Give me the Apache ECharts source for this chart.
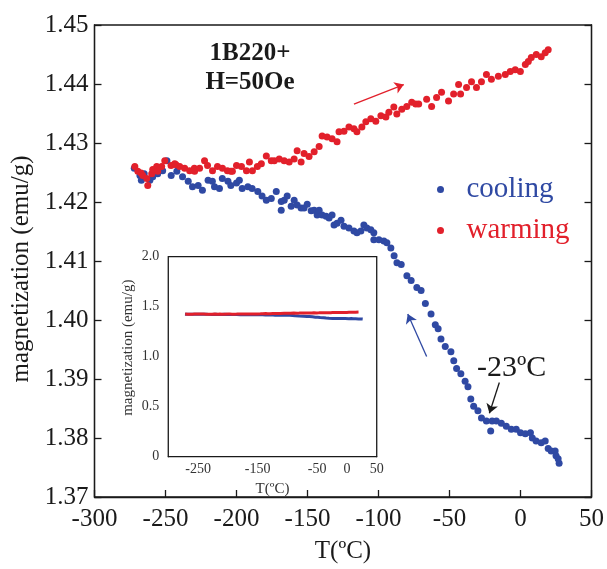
<!DOCTYPE html>
<html>
<head>
<meta charset="utf-8">
<script src="https://cdn.jsdelivr.net/npm/echarts@6/dist/echarts.min.js"></script>
<style>html,body{margin:0;padding:0;background:#fff}#c{width:607px;height:569px}</style>
</head>
<body>
<div id="c"></div>
<script>
// ---- data (T in ºC, magnetization in emu/g) ----
const xTicksMain = [-300, -250, -200, -150, -100, -50, 0, 50];
const yTicksMain = [1.37, 1.38, 1.39, 1.40, 1.41, 1.42, 1.43, 1.44, 1.45];
const insetXLabels = [-250, -150, -50, 0, 50];
const insetYTicks = [0, 0.5, 1.0, 1.5, 2.0];

const coolingT = [-272,-268,-267,-265,-261,-259,-255.5,-252,-249,-246,-242,-238,-234,-231,-227,-224,-220,-217,-215.5,-212,-210,-206,-204,-200,-198,-196,-192,-189,-185,-182,-179,-175.5,-172,
  -168.5,-168.5,-166.4,-164.3,-161.5,-159.4,-157.3,-154.5,-152.4,-150.2,-147.4,-145.3,-143.2,-141.8,-139.7,-136.9,-134.8,-132.7,-131.3,-129.2,-126.4,-124.3,-120.8,-117.3,-115.2,-112.4,-110.3,-108.2,-105.4,-103.3,-103.3,-99.7,-96.2,-94.1,-91.3,
  -89,-87,-84,-80,-77,-73,-70,-67,-63,-60,-58,-56,-53,-49,-47,-45,-42,-39,-37,-35,-33,-30,-27.5,-24,-21,-20,-17,-13.5,-10,-6.5,-3,0,3.4,7,8.3,11,14.6,17.4,19.5,21.6,24.4,25,26.5,27.2];
const coolingM = [1.4257,1.4245,1.4237,1.4248,1.4237,1.4243,1.4248,1.4253,1.4270,1.4245,1.4252,1.4243,1.4235,1.4226,1.4228,1.4220,1.4237,1.4235,1.4226,1.4223,1.4240,1.4235,1.4228,1.4232,1.4237,1.4223,1.4226,1.4223,1.4218,1.4210,1.4203,1.4206,1.4218,
  1.4201,1.4186,1.4203,1.4210,1.4193,1.4203,1.4195,1.4190,1.4190,1.4196,1.4185,1.4186,1.4178,1.4186,1.4178,1.4176,1.4173,1.4178,1.4161,1.4164,1.4169,1.4159,1.4156,1.4151,1.4148,1.4151,1.4161,1.4156,1.4153,1.4148,1.4136,1.4136,1.4134,1.4131,1.4122,
  1.4109,1.4097,1.4094,1.4075,1.4067,1.4055,1.4050,1.4028,1.4010,1.3992,1.3985,1.3968,1.3955,1.3946,1.3931,1.3918,1.3909,1.3896,1.3887,1.3866,1.3854,1.3846,1.3834,1.3829,1.3812,1.3829,1.3829,1.3825,1.3820,1.3815,1.3815,1.3809,1.3807,1.3809,1.3800,1.3795,1.3792,1.3795,1.3782,1.3778,1.3778,1.3770,1.3765,1.3757];

const warmingT = [-271.6,-269.5,-267.2,-266,-263.2,-262.5,-259.7,-259.0,-256.2,-255.5,-252.7,-250.5,-246.1,-243.5,-242.6,-240,-236.5,-233,-229.7,-229.5,-226,-222.5,-220.4,-216.9,-213.4,-209.9,-206.4,-204.0,-202.9,-200,-196.5,-193,-190.9,-188.8,-185.3,-182.5,-179,-175.5,-173.4,-169.9,-166.4,-162.9,-159.4,-157.3,-154.5,-152.4,-148.9,-145.3,-141.8,-139.7,-136.2,-132.7,-129.2,-127.8,-124.3,-120.8,-117.3,-115.2,-111.7,-108.9,-105.4,-101.9,-98.3,-94.8,-92.7,-89.2,-87.1,-83.6,-80.1,-76.6,-73.8,-71.7,-66.1,-62.6,-59.1,-55.6,-50.7,-47.1,-43.6,-42.2,-38,-34.5,-31,-27.5,-24,-20.5,-15.6,-10.7,-7.2,-3.7,-0.1,3.4,5.5,7.6,11.1,14.6,17.4,19.5];
const warmingM = [1.4260,1.4252,1.4249,1.4245,1.4240,1.4228,1.4248,1.4255,1.4260,1.4252,1.4260,1.4270,1.4262,1.4265,1.4263,1.4260,1.4257,1.4253,1.4257,1.4252,1.4257,1.4270,1.4262,1.4253,1.4260,1.4257,1.4253,1.4252,1.4252,1.4262,1.4260,1.4253,1.4268,1.4253,1.4260,1.4265,1.4278,1.4270,1.4270,1.4273,1.4270,1.4268,1.4273,1.4287,1.4268,1.4282,1.4277,1.4285,1.4294,1.4312,1.4310,1.4307,1.4302,1.4319,1.4320,1.4327,1.4324,1.4319,1.4327,1.4336,1.4341,1.4337,1.4346,1.4344,1.4352,1.4361,1.4349,1.4357,1.4362,1.4369,1.4366,1.4366,1.4374,1.4362,1.4377,1.4386,1.4371,1.4383,1.4399,1.4383,1.4394,1.4404,1.4394,1.4404,1.4416,1.4408,1.4413,1.4416,1.4421,1.4424,1.4421,1.4433,1.4438,1.4445,1.4450,1.4446,1.4453,1.4458];

const BLUE = '#2f49a3';
const RED = '#e2202b';
const INK = '#1a1a1a';
const SERIF = '"Liberation Serif", "DejaVu Serif", serif';

const cooling = coolingT.map((t, i) => [t, coolingM[i]]);
const warming = warmingT.map((t, i) => [t, warmingM[i]]);

const chart = echarts.init(document.getElementById('c'), null, {renderer: 'canvas'});

function line(w) { return {show: true, onZero: false, lineStyle: {color: INK, width: w}}; }

const option = {
  animation: false,
  backgroundColor: '#fff',
  grid: [
    {left: 94.5, top: 25, width: 499, height: 477, show: true, borderColor: INK, borderWidth: 1.3, backgroundColor: 'transparent'},
    {left: 168.3, top: 256.7, width: 208.4, height: 200, show: true, borderColor: INK, borderWidth: 1.2, backgroundColor: '#fff', z: 3}
  ],
  legend: {
    orient: 'vertical',
    left: 432, top: 170,
    itemWidth: 42, itemHeight: 7, itemGap: 12,
    icon: 'circle',
    textStyle: {fontFamily: SERIF, fontSize: 29},
    data: [
      {name: 'cooling', textStyle: {color: BLUE}},
      {name: 'warming', textStyle: {color: RED}}
    ]
  },
  xAxis: [
    {
      type: 'value', gridIndex: 0, min: xTicksMain[0], max: xTicksMain[xTicksMain.length - 1], interval: 50,
      axisLine: line(1.3), splitLine: {show: false},
      axisTick: {show: true, inside: true, length: 7, lineStyle: {color: INK, width: 1.3}},
      axisLabel: {fontFamily: SERIF, fontSize: 25, color: INK, margin: 10},
      name: 'T(ºC)', nameLocation: 'middle', nameGap: 42,
      nameTextStyle: {fontFamily: SERIF, fontSize: 25, color: INK}
    },
    {
      type: 'value', gridIndex: 1, min: -300, max: 50, interval: 50,
      axisLine: line(1.2), splitLine: {show: false},
      axisTick: {show: true, inside: true, length: 5, lineStyle: {color: INK, width: 1}},
      axisLabel: {fontFamily: SERIF, fontSize: 14, color: '#333', margin: 6,
        formatter: v => insetXLabels.indexOf(v) >= 0 ? String(v) : ''},
      name: 'T(ºC)', nameLocation: 'middle', nameGap: 25,
      nameTextStyle: {fontFamily: SERIF, fontSize: 15, color: '#333'}
    }
  ],
  yAxis: [
    {
      type: 'value', gridIndex: 0, min: yTicksMain[0], max: yTicksMain[yTicksMain.length - 1], interval: 0.01,
      axisLine: line(1.3), splitLine: {show: false},
      axisTick: {show: true, inside: true, length: 7, lineStyle: {color: INK, width: 1.3}},
      axisLabel: {fontFamily: SERIF, fontSize: 25, color: INK, margin: 6, formatter: v => v.toFixed(2)},
      name: 'magnetization (emu/g)', nameLocation: 'middle', nameGap: 55,
      nameTextStyle: {fontFamily: SERIF, fontSize: 25, color: INK, padding: [0, 0, 0, -16]}
    },
    {
      type: 'value', gridIndex: 0, position: 'right', min: 1.37, max: 1.45, interval: 0.01,
      axisLine: line(1.3), splitLine: {show: false},
      axisTick: {show: true, inside: true, length: 7, lineStyle: {color: INK, width: 1.3}},
      axisLabel: {show: false}
    },
    {
      type: 'value', gridIndex: 1, min: insetYTicks[0], max: insetYTicks[insetYTicks.length - 1], interval: 0.5,
      axisLine: line(1.2), splitLine: {show: false},
      axisTick: {show: true, inside: true, length: 5, lineStyle: {color: INK, width: 1}},
      axisLabel: {fontFamily: SERIF, fontSize: 14, color: '#333', margin: 9,
        formatter: v => v === 0 ? '0' : v.toFixed(1)},
      name: 'magnetization (emu/g)', nameLocation: 'middle', nameGap: 33,
      nameTextStyle: {fontFamily: SERIF, fontSize: 15, color: '#333', padding: [0, 0, 0, 18]}
    },
    {
      type: 'value', gridIndex: 1, position: 'right', min: 0, max: 2, interval: 0.5,
      axisLine: line(1.2), splitLine: {show: false},
      axisTick: {show: true, inside: true, length: 5, lineStyle: {color: INK, width: 1}},
      axisLabel: {show: false}
    }
  ],
  graphic: [
    {type: 'text', x: 250, y: 54, z: 10, style: {text: '1B220+', fontFamily: SERIF, fontWeight: 'bold', fontSize: 25, fill: INK, align: 'center', verticalAlign: 'middle'}},
    {type: 'text', x: 250, y: 83, z: 10, style: {text: 'H=50Oe', fontFamily: SERIF, fontWeight: 'bold', fontSize: 25, fill: INK, align: 'center', verticalAlign: 'middle'}},
    {type: 'text', x: 477, y: 368, z: 10, style: {text: '-23ºC', fontFamily: SERIF, fontSize: 30, fill: INK, align: 'left', verticalAlign: 'middle'}}
  ],
  series: [
    {
      name: 'cooling', type: 'scatter', xAxisIndex: 0, yAxisIndex: 0, data: cooling,
      symbolSize: 7, itemStyle: {color: BLUE, opacity: 1}, z: 2
    },
    {
      name: 'warming', type: 'scatter', xAxisIndex: 0, yAxisIndex: 0, data: warming,
      symbolSize: 7, itemStyle: {color: RED, opacity: 1}, z: 2
    },
    {
      name: 'arrows', type: 'scatter', xAxisIndex: 0, yAxisIndex: 0, data: [], silent: true,
      markLine: {
        silent: true, symbol: ['none', 'arrow'], symbolSize: 9, animation: false,
        label: {show: false},
        data: [
          [{coord: [-117.3, 1.4366], lineStyle: {color: RED, width: 1.3, type: 'solid'}, itemStyle: {color: RED}}, {coord: [-82.2, 1.4399]}],
          [{coord: [-66.1, 1.3938], lineStyle: {color: BLUE, width: 1.3, type: 'solid'}, itemStyle: {color: BLUE}}, {coord: [-79.4, 1.4010]}],
          [{coord: [-14.9, 1.3894], lineStyle: {color: INK, width: 1.3, type: 'solid'}, itemStyle: {color: INK}}, {coord: [-21.9, 1.3842]}]
        ]
      }
    },
    {
      name: 'cooling-inset', type: 'line', xAxisIndex: 1, yAxisIndex: 2, data: cooling,
      showSymbol: false, lineStyle: {color: BLUE, width: 3}, z: 4, silent: true
    },
    {
      name: 'warming-inset', type: 'line', xAxisIndex: 1, yAxisIndex: 2, data: warming,
      showSymbol: false, lineStyle: {color: RED, width: 3}, z: 5, silent: true
    }
  ]
};
chart.setOption(option);
</script>
</body>
</html>
